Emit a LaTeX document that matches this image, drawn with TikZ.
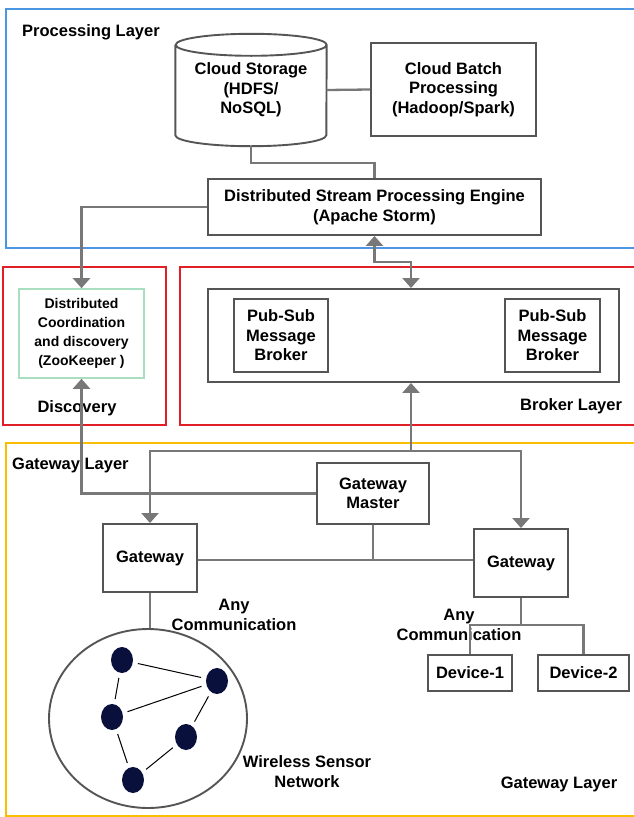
\documentclass[tikz,border=0pt]{standalone}
\usepackage{fontspec}
\setmainfont{Liberation Sans}
\usetikzlibrary{shapes.geometric,arrows.meta}
\definecolor{layerblue}{RGB}{74,150,226}
\definecolor{layerred}{RGB}{226,30,38}
\definecolor{layeryellow}{RGB}{250,190,0}
\definecolor{zkgreen}{RGB}{170,222,192}
\definecolor{boxgray}{RGB}{85,85,85}
\definecolor{linegray}{RGB}{120,120,120}
\definecolor{sensornavy}{RGB}{10,16,60}
\begin{document}
\begin{tikzpicture}[x=1pt,y=-1pt,
  font=\bfseries\fontsize{16.5}{19.5}\selectfont,
  layer/.style={line width=2pt},
  box/.style={draw=boxgray, line width=1.9pt, inner sep=0pt, align=center},
  conn/.style={draw=linegray, line width=2.3pt},
  tip/.style={-{Triangle[width=17pt,length=10pt]}},
  twotip/.style={{Triangle[width=17pt,length=10pt]}-{Triangle[width=17pt,length=10pt]}},
  sensor/.style={ellipse, fill=sensornavy, minimum width=22pt, minimum height=26pt, inner sep=0pt},
  sedge/.style={line width=1pt, shorten <=5pt, shorten >=5pt},
  lbl/.style={align=center, inner sep=0pt}]
\useasboundingbox (0,0) rectangle (634,817);

% layer frames
\draw[layer, layerblue] (6,9) rectangle (640,248);
\draw[layer, layerred] (3,267) rectangle (166,425);
\draw[layer, layerred] (180,267) rectangle (640,425);
\draw[layer, layeryellow] (6,443) rectangle (640,816);

% layer labels
\node[lbl, anchor=base west] (lproc) at (22,36) {Processing Layer};
\node[lbl, anchor=base] (ldisc) at (77,412) {Discovery};
\node[lbl, anchor=base west] (lbrok) at (520,410) {Broker Layer};
\node[lbl, anchor=base west] (lgw1) at (12,469) {Gateway Layer};
\node[lbl, anchor=base] (lgw2) at (559,788) {Gateway Layer};

% processing layer
\node[lbl, minimum width=151pt, minimum height=112pt] (cs) at (251,90) {Cloud Storage\\(HDFS/\\NoSQL)};
\draw[box] ([yshift=-11pt]cs.north west) -- ([yshift=11pt]cs.south west)
  arc[start angle=180,end angle=360,x radius=75.5pt,y radius=11pt]
  -- ([yshift=-11pt]cs.north east)
  arc[start angle=0,end angle=180,x radius=75.5pt,y radius=11pt]
  arc[start angle=180,end angle=360,x radius=75.5pt,y radius=11pt];
\node[box, minimum width=165pt, minimum height=93pt] (batch) at (453.5,89.5) {Cloud Batch\\Processing\\(Hadoop/Spark)};
\node[box, minimum width=333pt, minimum height=56pt] (stream) at (374.5,207) {Distributed Stream Processing Engine\\(Apache Storm)};

% discovery
\node[box, draw=zkgreen, line width=1.6pt, minimum width=125pt, minimum height=89pt, font=\bfseries\fontsize{14}{19}\selectfont] (zk) at (81.5,333.5) {Distributed\\Coordination\\and discovery\\(ZooKeeper )};

% broker layer
\node[box, minimum width=411pt, minimum height=93pt] (bo) at (413.5,335.5) {};
\node[box, minimum width=94pt, minimum height=73pt] (pb1) at (281,335.5) {Pub-Sub\\Message\\Broker};
\node[box, minimum width=95pt, minimum height=73pt] (pb2) at (552.5,335.5) {Pub-Sub\\Message\\Broker};

% gateway layer
\node[box, minimum width=112pt, minimum height=61pt] (gm) at (373,493.5) {Gateway\\Master};
\node[box, minimum width=94pt, minimum height=68pt] (gw1) at (150,558) {Gateway};
\node[box, minimum width=94pt, minimum height=68pt] (gw2) at (521,563) {Gateway};
\node[box, minimum width=84pt, minimum height=36pt] (d1) at (470,673) {Device-1};
\node[box, minimum width=91pt, minimum height=36pt] (d2) at (583.5,673) {Device-2};
\node[box, ellipse, minimum width=198pt, minimum height=179pt] (wsn) at (148,718.5) {};

% sensors
\node[sensor] (s1) at (122,660) {};
\node[sensor] (s2) at (217,681) {};
\node[sensor] (s3) at (112,717) {};
\node[sensor] (s4) at (186,737) {};
\node[sensor] (s5) at (133,780) {};
\draw[sedge] (s1) -- (s2);
\draw[sedge] (s1) -- (s3);
\draw[sedge] (s3) -- (s2);
\draw[sedge] (s2) -- (s4);
\draw[sedge] (s3) -- (s5);
\draw[sedge] (s5) -- (s4);

% text labels (base = last line)
\node[lbl, anchor=base] (any1) at (234,630) {Any\\Communication};
\node[lbl, anchor=base] (any2) at (459,640) {Any\\Communication};
\node[lbl, anchor=base] (wsnl) at (307,787) {Wireless Sensor\\Network};

% connectors
\coordinate (cj) at (374.5,163);
\coordinate (bj) at (411,262);
\coordinate (zj) at (81.5,207);
\coordinate (bus) at (411,451);
\coordinate (hl) at (373,560);
\coordinate (dj) at (521,625);

\draw[conn] (cs.east) -- (batch.west);
\draw[conn] (cs.south) |- (cj) -- (stream.north);
\draw[conn, twotip, linegray] (stream.south) |- (bj) -- (bj |- bo.north);
\draw[conn, tip, linegray] (stream.west) -- (zj) -- (zk.north);
\draw[conn, tip, linegray] (gm.west) -| (zk.south);
\draw[conn, tip, linegray] (bus) -- (bus |- bo.south);
\draw[conn, tip, linegray] (bus) -| (gw1.north);
\draw[conn, tip, linegray] (bus) -| (gw2.north);
\draw[conn] (gm.south) -- (hl);
\draw[conn] (gw1.east |- hl) -- (gw2.west |- hl);
\draw[conn] (gw1.south) -- (gw1.south |- wsn.north);
\draw[conn] (gw2.south) -- (dj);
\draw[conn] (d1.north) |- (dj) -| (d2.north);
\end{tikzpicture}
\end{document}
